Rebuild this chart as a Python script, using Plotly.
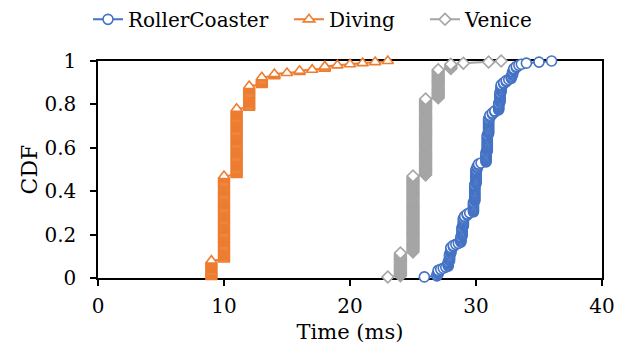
import plotly.graph_objects as go

# Sample times (ms) and how many samples fell at each time, per series
rc_times = [25.9, 26.9, 27.0, 27.2, 27.4, 27.6,
            27.8, 27.9, 28.0, 28.2, 28.4, 28.6,
            28.8, 28.9, 29.0, 29.1, 29.3, 29.5,
            29.8, 29.9, 30.0, 30.1, 30.2, 30.4,
            30.8, 30.9, 31.0, 31.1, 31.3, 31.5,
            31.8, 31.9, 32.0, 32.2, 32.4, 32.6,
            32.8, 32.9, 33.0, 33.2, 33.4, 33.6,
            34.0, 35.0, 36.0]
rc_counts = [1, 2, 4, 1, 1, 1,
             5, 7, 6, 2, 1, 1,
             6, 9, 8, 2, 2, 1,
             10, 16, 14, 3, 2, 1,
             10, 16, 15, 3, 2, 2,
             7, 10, 7, 2, 2, 1,
             3, 4, 3, 2, 1, 1,
             1, 1, 1]

dv_times = [9, 10, 11, 12, 13, 14, 15, 16, 17, 18, 19, 20, 21, 22, 23]
dv_counts = [16, 78, 62, 21, 8, 3, 1, 2, 1, 3, 1, 1, 1, 1, 1]

vn_times = [23, 24, 25, 26, 27, 28, 29, 31, 32]
vn_counts = [1, 22, 71, 71, 27, 5, 1, 1, 1]

series_names = ["RollerCoaster", "Diving", "Venice"]
colors = ["#4472C4", "#ED7D31", "#A5A5A5"]
symbols = ["circle", "triangle-up", "diamond"]
sizes = [10, 10, 9]
legend_ids = ["legend", "legend2", "legend3"]


def ecdf(times, counts):
    n = sum(counts)
    xs, ys = [], []
    k = 0
    for t, c in zip(times, counts):
        for _ in range(c):
            k += 1
            xs.append(t)
            ys.append(k / n)
    return xs, ys


fig = go.Figure()
for name, times, counts, col, sym, sz, lg in zip(
        series_names,
        [rc_times, dv_times, vn_times],
        [rc_counts, dv_counts, vn_counts],
        colors, symbols, sizes, legend_ids):
    xs, ys = ecdf(times, counts)
    fig.add_trace(go.Scatter(
        x=xs, y=ys, name=name, mode="lines+markers",
        line=dict(color=col, width=2),
        marker=dict(symbol=sym, size=sz,
                    color="white", line=dict(color=col, width=1.6)),
        cliponaxis=False, legend=lg,
    ))

FAM = "DejaVu Serif"
legend_x = [88, 289, 425]


def legend_cfg(x):
    return dict(orientation="h", x=x / 628, xanchor="left", xref="container",
                y=0.946, yanchor="middle", yref="container",
                font=dict(family=FAM, size=20, color="black"),
                bgcolor="rgba(0,0,0,0)", borderwidth=0)


fig.update_layout(
    width=628, height=358,
    margin=dict(l=98, r=26, t=61, b=80, autoexpand=False),
    paper_bgcolor="white", plot_bgcolor="white",
    font=dict(family=FAM, size=20, color="black"),
    showlegend=True,
    legend=legend_cfg(legend_x[0]),
    legend2=legend_cfg(legend_x[1]),
    legend3=legend_cfg(legend_x[2]),
    xaxis=dict(range=[0, 40], dtick=10, showgrid=False, zeroline=False,
               showline=True, linecolor="black", linewidth=1.5, mirror=True,
               ticks="outside", ticklen=6, tickcolor="black", tickwidth=1.5,
               tickfont=dict(family=FAM, size=20), ticklabelstandoff=3,
               title=dict(text="Time (ms)", font=dict(family=FAM, size=21),
                          standoff=8),
               layer="below traces"),
    yaxis=dict(range=[0, 1], dtick=0.2, showgrid=False, zeroline=False,
               showline=True, linecolor="black", linewidth=1.5, mirror=True,
               ticks="outside", ticklen=6, tickcolor="black", tickwidth=1.5,
               tickfont=dict(family=FAM, size=20), ticklabelstandoff=10,
               title=dict(text="CDF", font=dict(family=FAM, size=22),
                          standoff=1),
               layer="below traces"),
)

fig.write_html("out.html")
